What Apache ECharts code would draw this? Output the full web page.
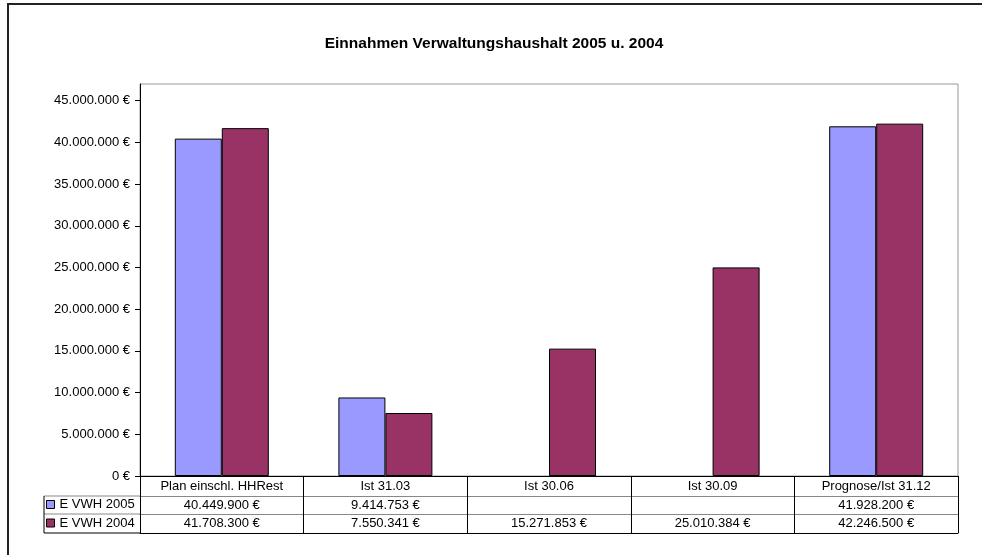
<!DOCTYPE html>
<html>
<head>
<meta charset="utf-8">
<title>Einnahmen Verwaltungshaushalt</title>
<script src="https://cdn.jsdelivr.net/npm/echarts@6/dist/echarts.min.js"></script>
<style>
  html, body { margin: 0; padding: 0; background: #fff; }
  #chart { width: 982px; height: 555px; }
</style>
</head>
<body>
<div id="chart"></div>
<script>
var categories = ['Plan einschl. HHRest', 'Ist 31.03', 'Ist 30.06', 'Ist 30.09', 'Prognose/Ist 31.12'];
var seriesNames = ['E VWH 2005', 'E VWH 2004'];
var values2005 = [40449900, 9414753, null, null, 41928200];
var values2004 = [41708300, 7550341, 15271853, 25010384, 42246500];
var yTicks = [0, 5000000, 10000000, 15000000, 20000000, 25000000, 30000000, 35000000, 40000000, 45000000];

var colors = ['#9999FF', '#993366'];
var font = 'Arial, "Liberation Sans", sans-serif';

function euro(v) {
  if (v === null || v === undefined) return '';
  return String(v).replace(/\B(?=(\d{3})+(?!\d))/g, '.') + ' \u20ac';
}

// one extra x axis per table row, label text taken from the series arrays
function tableAxis(offset, rowValues, lineColor, tickLen) {
  return {
    type: 'category',
    position: 'bottom',
    offset: offset,
    data: categories,
    axisLine: { show: true, lineStyle: { color: lineColor, width: 1 } },
    axisTick: { show: tickLen > 0, length: tickLen, interval: 0, alignWithLabel: false, lineStyle: { color: '#000' } },
    axisLabel: {
      show: !!rowValues,
      interval: 0,
      margin: 3,
      color: '#000',
      fontFamily: font,
      fontSize: 13,
      formatter: function (val, idx) { return rowValues ? euro(rowValues[idx]) : ''; }
    },
    splitLine: { show: false }
  };
}

var chart = echarts.init(document.getElementById('chart'));

var option = {
  backgroundColor: '#fff',
  color: colors,
  animation: false,
  title: {
    text: 'Einnahmen Verwaltungshaushalt 2005 u. 2004',
    left: 494,
    top: 36,
    padding: 0,
    textAlign: 'center',
    textStyle: { fontFamily: font, fontSize: 15.5, fontWeight: 'bold', color: '#000' }
  },
  legend: {
    data: seriesNames,
    orient: 'vertical',
    left: 46,
    top: 498,
    padding: 0,
    itemWidth: 8,
    itemHeight: 8,
    itemGap: 5.5,
    icon: 'rect',
    itemStyle: { borderColor: '#000', borderWidth: 1 },
    textStyle: { fontFamily: font, fontSize: 13, lineHeight: 13, color: '#000' }
  },
  grid: {
    left: 140,
    right: 24,
    top: 84,
    bottom: 79,
    show: true,
    borderColor: '#999',
    borderWidth: 1,
    containLabel: false
  },
  xAxis: [
    {
      type: 'category',
      position: 'bottom',
      data: categories,
      axisLine: { show: true, lineStyle: { color: '#000', width: 1 } },
      axisTick: { show: true, length: 20, interval: 0, alignWithLabel: false, lineStyle: { color: '#000' } },
      axisLabel: { interval: 0, margin: 4, color: '#000', fontFamily: font, fontSize: 13 },
      splitLine: { show: false }
    },
    tableAxis(20, values2005, '#888', 18),
    tableAxis(38, values2004, '#888', 19),
    tableAxis(57, null, '#000', 0)
  ],
  yAxis: {
    type: 'value',
    min: 0,
    max: 47000000,
    axisLine: { show: true, lineStyle: { color: '#000', width: 1 } },
    axisTick: { show: true, length: 5, customValues: yTicks, lineStyle: { color: '#000' } },
    axisLabel: {
      customValues: yTicks,
      margin: 10,
      color: '#000',
      fontFamily: font,
      fontSize: 13,
      formatter: function (v) { return euro(v); }
    },
    splitLine: { show: false }
  },
  graphic: [
    { type: 'rect', z: -10, silent: true, shape: { x: 8, y: 4, width: 1000, height: 600 },
      style: { fill: 'none', stroke: '#222', lineWidth: 2 } },
    { type: 'line', silent: true, shape: { x1: 44, y1: 496, x2: 140, y2: 496 }, style: { stroke: '#888', lineWidth: 1 } },
    { type: 'line', silent: true, shape: { x1: 44, y1: 514, x2: 140, y2: 514 }, style: { stroke: '#888', lineWidth: 1 } },
    { type: 'line', silent: true, shape: { x1: 44, y1: 533, x2: 140, y2: 533 }, style: { stroke: '#000', lineWidth: 1 } },
    { type: 'line', silent: true, shape: { x1: 44, y1: 496, x2: 44, y2: 533 }, style: { stroke: '#000', lineWidth: 1 } }
  ],
  series: [
    {
      name: seriesNames[0],
      type: 'bar',
      data: values2005,
      barWidth: 47,
      barGap: '0%',
      itemStyle: { color: colors[0], borderColor: '#000', borderWidth: 1 }
    },
    {
      name: seriesNames[1],
      type: 'bar',
      data: values2004,
      barWidth: 47,
      barGap: '0%',
      itemStyle: { color: colors[1], borderColor: '#000', borderWidth: 1 }
    }
  ]
};

chart.setOption(option);
</script>
</body>
</html>
